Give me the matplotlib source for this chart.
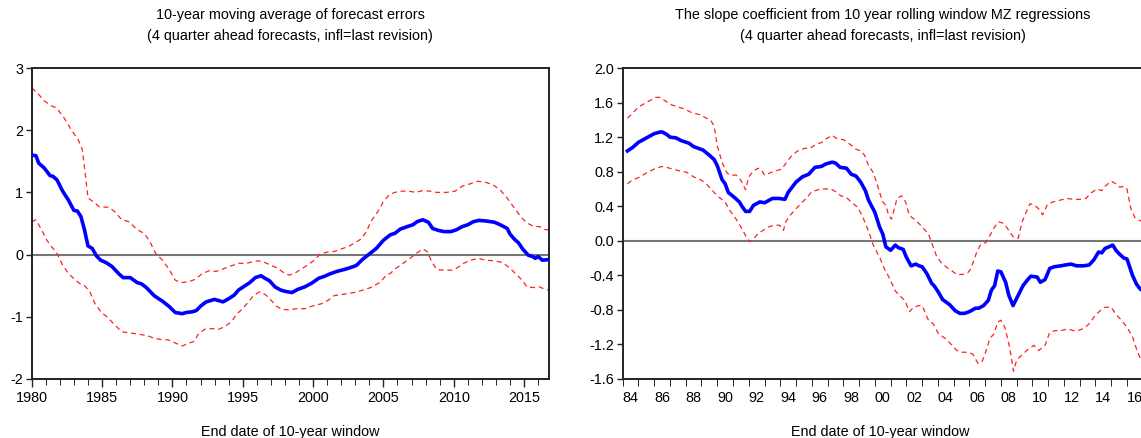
import matplotlib
matplotlib.use("Agg")
import matplotlib.pyplot as plt
import numpy as np

plt.rcParams['font.family'] = ['Liberation Sans', 'DejaVu Sans']

# left panel: 10-year moving average of forecast errors
ma_x = [1980.0, 1980.3, 1980.5, 1980.9, 1981.3, 1981.5, 1981.8, 1982.2, 1982.6, 1983.0,
        1983.25, 1983.5, 1983.75, 1984.0, 1984.3, 1984.6, 1984.9, 1985.3, 1985.7, 1986.2,
        1986.5, 1987.0, 1987.5, 1987.8, 1988.15, 1988.7, 1989.3, 1989.8, 1990.2, 1990.7,
        1991.0, 1991.4, 1991.7, 1992.0, 1992.4, 1992.7, 1993.0, 1993.3, 1993.6, 1994.0,
        1994.4, 1994.7, 1995.1, 1995.5, 1995.9, 1996.3, 1996.5, 1996.9, 1997.3, 1997.7,
        1998.0, 1998.5, 1998.9, 1999.4, 1999.9, 2000.4, 2000.8, 2001.2, 2001.7, 2002.2,
        2002.5, 2002.9, 2003.1, 2003.5, 2004.0, 2004.5, 2005.0, 2005.5, 2005.8, 2006.2,
        2006.7, 2007.1, 2007.4, 2007.8, 2008.2, 2008.5, 2008.9, 2009.3, 2009.8, 2010.2,
        2010.6, 2011.0, 2011.4, 2011.8, 2012.3, 2012.9, 2013.3, 2013.8, 2014.0, 2014.3,
        2014.6, 2014.9, 2015.3, 2015.6, 2015.8, 2016.0, 2016.3, 2016.75]
ma_mean = [1.60, 1.59, 1.47, 1.39, 1.27, 1.26, 1.20, 1.02, 0.88, 0.71,
           0.70, 0.61, 0.40, 0.14, 0.10, -0.02, -0.09, -0.13, -0.19, -0.31,
           -0.37, -0.37, -0.45, -0.47, -0.53, -0.66, -0.75, -0.84, -0.93, -0.95,
           -0.93, -0.92, -0.90, -0.83, -0.76, -0.74, -0.72, -0.74, -0.76, -0.71,
           -0.65, -0.57, -0.51, -0.45, -0.37, -0.34, -0.37, -0.42, -0.52, -0.57,
           -0.59, -0.61, -0.56, -0.52, -0.46, -0.38, -0.35, -0.31, -0.27, -0.24,
           -0.22, -0.19, -0.17, -0.08, 0.01, 0.10, 0.23, 0.32, 0.34, 0.41,
           0.45, 0.48, 0.53, 0.56, 0.52, 0.42, 0.39, 0.37, 0.37, 0.40,
           0.45, 0.48, 0.53, 0.55, 0.54, 0.52, 0.48, 0.42, 0.33, 0.25,
           0.19, 0.09, -0.01, -0.03, -0.06, -0.03, -0.09, -0.08]

ma_up_x = [1980.0, 1980.4, 1980.9, 1981.4, 1981.75, 1982.3, 1982.8, 1983.3, 1983.6, 1983.8,
           1984.0, 1984.5, 1984.8, 1985.5, 1985.9, 1986.4, 1986.9, 1987.5, 1988.0, 1988.4,
           1988.8, 1989.3, 1989.8, 1990.2, 1990.6, 1991.1, 1991.6, 1992.1, 1992.6, 1993.1,
           1993.6, 1994.2, 1994.7, 1995.3, 1995.6, 1996.1, 1996.5, 1997.0, 1997.5, 1997.9,
           1998.3, 1998.7, 1999.1, 1999.6, 2000.1, 2000.5, 2001.0, 2001.5, 2002.0, 2002.5,
           2003.0, 2003.4, 2003.8, 2004.1, 2004.6, 2005.0, 2005.4, 2005.8, 2006.3, 2006.8,
           2007.3, 2007.8, 2008.3, 2008.8, 2009.5, 2010.1, 2010.6, 2011.2, 2011.7, 2012.3,
           2012.8, 2013.3, 2013.8, 2014.3, 2014.8, 2015.2, 2015.7, 2016.1, 2016.5, 2016.75]
ma_up = [2.68, 2.60, 2.47, 2.39, 2.36, 2.20, 2.01, 1.85, 1.69, 1.31,
         0.91, 0.83, 0.77, 0.76, 0.69, 0.56, 0.53, 0.40, 0.34, 0.21,
         0.02, -0.09, -0.25, -0.41, -0.45, -0.44, -0.40, -0.31, -0.26, -0.27,
         -0.23, -0.18, -0.14, -0.14, -0.12, -0.10, -0.12, -0.17, -0.22, -0.29,
         -0.33, -0.30, -0.24, -0.17, -0.09, 0.01, 0.04, 0.05, 0.09, 0.13,
         0.19, 0.25, 0.37, 0.53, 0.69, 0.85, 0.96, 1.00, 1.02, 1.02,
         1.00, 1.03, 1.02, 1.00, 1.00, 1.02, 1.10, 1.14, 1.18, 1.16,
         1.12, 1.04, 0.91, 0.75, 0.60, 0.51, 0.45, 0.45, 0.40, 0.40]

ma_lo_x = [1980.0, 1980.3, 1980.7, 1981.05, 1981.4, 1981.8, 1982.2, 1982.6, 1983.1, 1983.45,
           1983.7, 1984.1, 1984.5, 1985.0, 1985.35, 1985.9, 1986.4, 1987.0, 1987.6, 1988.15,
           1988.8, 1989.3, 1989.7, 1990.2, 1990.7, 1991.1, 1991.6, 1991.8, 1992.3, 1992.8,
           1993.3, 1993.7, 1994.2, 1994.6, 1995.0, 1995.4, 1995.8, 1996.2, 1996.65, 1997.0,
           1997.4, 1997.8, 1998.3, 1998.8, 1999.4, 1999.9, 2000.6, 2001.1, 2001.5, 2002.1,
           2002.9, 2003.4, 2004.1, 2004.8, 2005.2, 2005.5, 2005.9, 2006.4, 2006.9, 2007.4,
           2007.8, 2008.1, 2008.5, 2008.8, 2009.3, 2009.85, 2010.2, 2010.7, 2011.2, 2011.75,
           2012.3, 2012.9, 2013.5, 2014.0, 2014.5, 2014.9, 2015.2, 2015.7, 2016.1, 2016.5,
           2016.75]
ma_lo = [0.53, 0.56, 0.40, 0.24, 0.13, 0.02, -0.17, -0.30, -0.41, -0.47,
         -0.49, -0.58, -0.79, -0.94, -1.00, -1.13, -1.24, -1.26, -1.28, -1.30,
         -1.35, -1.37, -1.37, -1.42, -1.47, -1.43, -1.39, -1.29, -1.20, -1.19,
         -1.20, -1.16, -1.08, -0.95, -0.87, -0.76, -0.65, -0.60, -0.65, -0.73,
         -0.83, -0.88, -0.89, -0.87, -0.87, -0.83, -0.79, -0.73, -0.66, -0.64,
         -0.61, -0.58, -0.53, -0.44, -0.33, -0.30, -0.22, -0.14, -0.06, 0.03,
         0.09, 0.05, -0.14, -0.24, -0.25, -0.25, -0.22, -0.14, -0.09, -0.06,
         -0.09, -0.10, -0.13, -0.22, -0.33, -0.42, -0.52, -0.53, -0.52, -0.56,
         -0.57]

# right panel: MZ slope coefficient
mz_x = [1983.8, 1984.13, 1984.5, 1984.8, 1985.2, 1985.5, 1985.9, 1986.0, 1986.3, 1986.5,
        1986.9, 1987.2, 1987.7, 1988.0, 1988.3, 1988.6, 1989.0, 1989.3, 1989.5, 1989.8,
        1990.0, 1990.2, 1990.6, 1990.9, 1991.1, 1991.3, 1991.55, 1991.8, 1992.2, 1992.5,
        1993.0, 1993.4, 1993.8, 1994.0, 1994.5, 1994.9, 1995.3, 1995.7, 1996.1, 1996.4,
        1996.8, 1997.0, 1997.3, 1997.7, 1998.0, 1998.3, 1998.6, 1998.9, 1999.1, 1999.3,
        1999.5, 1999.8, 2000.0, 2000.2, 2000.5, 2000.8, 2001.0, 2001.3, 2001.5, 2001.8,
        2002.1, 2002.3, 2002.5, 2002.8, 2003.1, 2003.3, 2003.55, 2003.8, 2004.25, 2004.6,
        2004.9, 2005.2, 2005.5, 2005.9, 2006.1, 2006.4, 2006.7, 2006.9, 2007.1, 2007.3,
        2007.5, 2007.8, 2008.0, 2008.27, 2008.6, 2008.9, 2009.2, 2009.4, 2009.8, 2010.0,
        2010.3, 2010.6, 2010.9, 2011.3, 2011.6, 2011.95, 2012.3, 2012.75, 2013.1, 2013.4,
        2013.7, 2013.9, 2014.1, 2014.35, 2014.6, 2014.8, 2015.0, 2015.3, 2015.5, 2015.85,
        2016.1, 2016.3, 2016.5]
mz_slope = [1.04, 1.08, 1.14, 1.17, 1.21, 1.24, 1.26, 1.26, 1.23, 1.20,
            1.19, 1.16, 1.13, 1.09, 1.07, 1.05, 0.99, 0.94, 0.87, 0.71,
            0.66, 0.56, 0.50, 0.45, 0.39, 0.34, 0.34, 0.41, 0.45, 0.44,
            0.49, 0.49, 0.48, 0.56, 0.68, 0.74, 0.77, 0.85, 0.86, 0.89,
            0.91, 0.90, 0.85, 0.84, 0.77, 0.75, 0.68, 0.58, 0.47, 0.40,
            0.33, 0.16, 0.08, -0.07, -0.11, -0.05, -0.08, -0.10, -0.19, -0.29,
            -0.27, -0.29, -0.30, -0.38, -0.49, -0.53, -0.60, -0.68, -0.74, -0.81,
            -0.84, -0.84, -0.82, -0.78, -0.78, -0.75, -0.69, -0.57, -0.52, -0.35,
            -0.36, -0.48, -0.63, -0.75, -0.63, -0.52, -0.45, -0.41, -0.42, -0.48,
            -0.45, -0.32, -0.30, -0.29, -0.28, -0.27, -0.29, -0.29, -0.28, -0.22,
            -0.13, -0.14, -0.09, -0.07, -0.05, -0.11, -0.15, -0.20, -0.21, -0.40,
            -0.50, -0.55, -0.58]

mz_up_x = [1983.8, 1984.1, 1984.5, 1984.8, 1985.3, 1985.6, 1985.85, 1986.2, 1986.5, 1987.0,
           1987.5, 1987.9, 1988.4, 1988.7, 1989.1, 1989.3, 1989.5, 1989.8, 1990.1, 1990.3,
           1990.7, 1991.0, 1991.3, 1991.5, 1991.8, 1992.1, 1992.3, 1992.5, 1992.9, 1993.2,
           1993.6, 1993.9, 1994.25, 1994.6, 1995.05, 1995.4, 1995.7, 1996.15, 1996.4, 1996.8,
           1997.1, 1997.5, 1997.9, 1998.3, 1998.6, 1998.85, 1999.1, 1999.4, 1999.6, 1999.8,
           2000.0, 2000.2, 2000.35, 2000.55, 2000.8, 2000.9, 2001.2, 2001.45, 2001.7, 2002.0,
           2002.3, 2002.6, 2002.9, 2003.1, 2003.4, 2003.7, 2004.0, 2004.4, 2004.7, 2005.05,
           2005.4, 2005.6, 2005.97, 2006.2, 2006.55, 2006.8, 2007.1, 2007.35, 2007.7, 2008.0,
           2008.3, 2008.6, 2008.85, 2009.1, 2009.35, 2009.65, 2009.9, 2010.15, 2010.45, 2010.8,
           2011.25, 2011.7, 2012.1, 2012.5, 2012.9, 2013.2, 2013.6, 2013.9, 2014.1, 2014.5,
           2014.8, 2015.05, 2015.3, 2015.5, 2015.75, 2016.0, 2016.25, 2016.5]
mz_up = [1.42, 1.47, 1.55, 1.58, 1.63, 1.66, 1.66, 1.62, 1.58, 1.55,
         1.52, 1.48, 1.46, 1.43, 1.39, 1.33, 1.10, 0.91, 0.79, 0.76,
         0.76, 0.70, 0.59, 0.74, 0.81, 0.84, 0.82, 0.76, 0.79, 0.81,
         0.83, 0.91, 0.99, 1.04, 1.07, 1.07, 1.11, 1.14, 1.18, 1.22,
         1.18, 1.17, 1.12, 1.06, 1.04, 0.99, 0.87, 0.79, 0.68, 0.56,
         0.45, 0.41, 0.31, 0.25, 0.41, 0.49, 0.52, 0.45, 0.29, 0.25,
         0.20, 0.14, 0.08, -0.02, -0.17, -0.25, -0.30, -0.35, -0.39, -0.39,
         -0.37, -0.32, -0.13, -0.05, -0.02, 0.06, 0.16, 0.22, 0.20, 0.12,
         0.04, 0.03, 0.22, 0.33, 0.43, 0.41, 0.37, 0.30, 0.42, 0.45,
         0.47, 0.49, 0.48, 0.48, 0.49, 0.55, 0.60, 0.58, 0.63, 0.69,
         0.66, 0.62, 0.63, 0.60, 0.37, 0.27, 0.24, 0.22]

mz_lo_x = [1983.8, 1984.1, 1984.6, 1985.05, 1985.5, 1985.97, 1986.3, 1986.65, 1987.1, 1987.6,
           1988.0, 1988.5, 1988.8, 1989.2, 1989.5, 1990.0, 1990.3, 1990.7, 1991.0, 1991.3,
           1991.55, 1991.8, 1992.06, 1992.4, 1992.75, 1993.1, 1993.45, 1993.7, 1993.85, 1994.1,
           1994.5, 1994.8, 1995.2, 1995.5, 1995.9, 1996.2, 1996.7, 1997.0, 1997.35, 1997.7,
           1998.05, 1998.4, 1998.7, 1998.95, 1999.2, 1999.4, 1999.8, 2000.1, 2000.45, 2000.8,
           2001.1, 2001.4, 2001.7, 2001.96, 2002.3, 2002.5, 2002.9, 2003.2, 2003.55, 2003.97,
           2004.4, 2004.7, 2005.05, 2005.4, 2005.7, 2006.05, 2006.3, 2006.55, 2006.8, 2007.05,
           2007.3, 2007.5, 2007.75, 2008.05, 2008.3, 2008.5, 2008.9, 2009.2, 2009.6, 2009.9,
           2010.3, 2010.6, 2010.95, 2011.3, 2011.75, 2012.1, 2012.4, 2012.8, 2013.1, 2013.5,
           2013.8, 2014.1, 2014.5, 2014.8, 2015.2, 2015.5, 2015.85, 2016.1, 2016.3, 2016.5]
mz_lo = [0.66, 0.70, 0.74, 0.79, 0.83, 0.86, 0.85, 0.83, 0.81, 0.79,
         0.74, 0.70, 0.66, 0.58, 0.52, 0.45, 0.35, 0.25, 0.16, 0.06,
         -0.01, 0.02, 0.08, 0.12, 0.16, 0.18, 0.18, 0.12, 0.22, 0.29,
         0.37, 0.43, 0.50, 0.57, 0.59, 0.60, 0.60, 0.57, 0.52, 0.50,
         0.44, 0.39, 0.29, 0.18, 0.06, -0.05, -0.19, -0.32, -0.44, -0.58,
         -0.64, -0.69, -0.82, -0.77, -0.75, -0.75, -0.92, -0.96, -1.08, -1.13,
         -1.21, -1.27, -1.29, -1.29, -1.31, -1.42, -1.40, -1.28, -1.13, -1.08,
         -0.94, -0.92, -1.00, -1.23, -1.51, -1.38, -1.31, -1.26, -1.21, -1.27,
         -1.21, -1.06, -1.04, -1.04, -1.02, -1.04, -1.04, -1.01, -0.96, -0.86,
         -0.81, -0.77, -0.77, -0.85, -0.93, -1.00, -1.11, -1.25, -1.34, -1.42]

mz_yticks = [-1.6, -1.2, -0.8, -0.4, 0.0, 0.4, 0.8, 1.2, 1.6, 2.0]
mz_yticklabels = ['-1.6', '-1.2', '-0.8', '-0.4', '0.0', '0.4', '0.8', '1.2', '1.6', '2.0']

W, H = 1141, 438
fig = plt.figure(figsize=(W / 100, H / 100), dpi=100)

FS = 10.4
spine_col = '#222222'

def style(ax):
    for s in ax.spines.values():
        s.set_color(spine_col)
        s.set_linewidth(1.4)
    ax.tick_params(axis='both', direction='out', color=spine_col, labelsize=FS, width=1.0)
    ax.tick_params(axis='y', length=4, pad=2)
    ax.tick_params(axis='x', which='major', length=6, pad=3)
    ax.tick_params(axis='x', which='minor', length=4)
    ax.axhline(0, color='#777777', lw=1.5, zorder=1)

# ---- left panel
ax1 = fig.add_axes([31.7 / W, (H - 379) / H, 517 / W, 311 / H])
ax1.plot(ma_up_x, ma_up, color='#ff2020', lw=0.9, ls=(0, (4, 3)), zorder=2)
ax1.plot(ma_lo_x, ma_lo, color='#ff2020', lw=0.9, ls=(0, (4, 3)), zorder=2)
ax1.plot(ma_x, ma_mean, color='#0000ff', lw=2.6, zorder=3, solid_joinstyle='round')
ax1.set_xlim(1980, 2016.75)
ax1.set_ylim(-2, 3)
ax1.set_yticks([-2, -1, 0, 1, 2, 3])
ax1.set_yticklabels(['-2', '-1', '0', '1', '2', '3'])
ax1.set_xticks(np.arange(1980, 2016, 5))
ax1.set_xticks(np.arange(1980, 2017, 1), minor=True)
style(ax1)

# ---- right panel (cut off at the right edge like the source)
x0, x1 = 1983.67, 2016.54
ax2 = fig.add_axes([622.7 / W, (H - 379) / H, (x1 - x0) * 15.84 / W, 311 / H])
ax2.plot(mz_up_x, mz_up, color='#ff2020', lw=0.9, ls=(0, (4, 3)), zorder=2)
ax2.plot(mz_lo_x, mz_lo, color='#ff2020', lw=0.9, ls=(0, (4, 3)), zorder=2)
ax2.plot(mz_x, mz_slope, color='#0000ff', lw=2.6, zorder=3, solid_joinstyle='round')
ax2.set_xlim(x0, x1)
ax2.set_ylim(-1.6, 2.0)
ax2.set_yticks(mz_yticks)
ax2.set_yticklabels(mz_yticklabels)
yrs = np.arange(1984, 2017, 2)
ax2.set_xticks(yrs)
ax2.set_xticklabels(['%02d' % (y % 100) for y in yrs])
ax2.set_xticks(np.arange(1983.5, 2016.6, 1), minor=True)
style(ax2)
ax2.tick_params(axis='x', which='major', length=0, pad=9)
ax2.tick_params(axis='x', which='minor', length=5)

# titles and axis captions
fig.text(290 / W, 1 - 15 / H, '10-year moving average of forecast errors', ha='center', va='center', fontsize=FS)
fig.text(290 / W, 1 - 36 / H, '(4 quarter ahead forecasts, infl=last revision)', ha='center', va='center', fontsize=FS)
fig.text(290 / W, 1 - 432 / H, 'End date of 10-year window', ha='center', va='center', fontsize=FS)

fig.text(883 / W, 1 - 15 / H, 'The slope coefficient from 10 year rolling window MZ regressions', ha='center', va='center', fontsize=FS)
fig.text(883 / W, 1 - 36 / H, '(4 quarter ahead forecasts, infl=last revision)', ha='center', va='center', fontsize=FS)
fig.text(880 / W, 1 - 432 / H, 'End date of 10-year window', ha='center', va='center', fontsize=FS)

fig.savefig('out.png', dpi=100)
